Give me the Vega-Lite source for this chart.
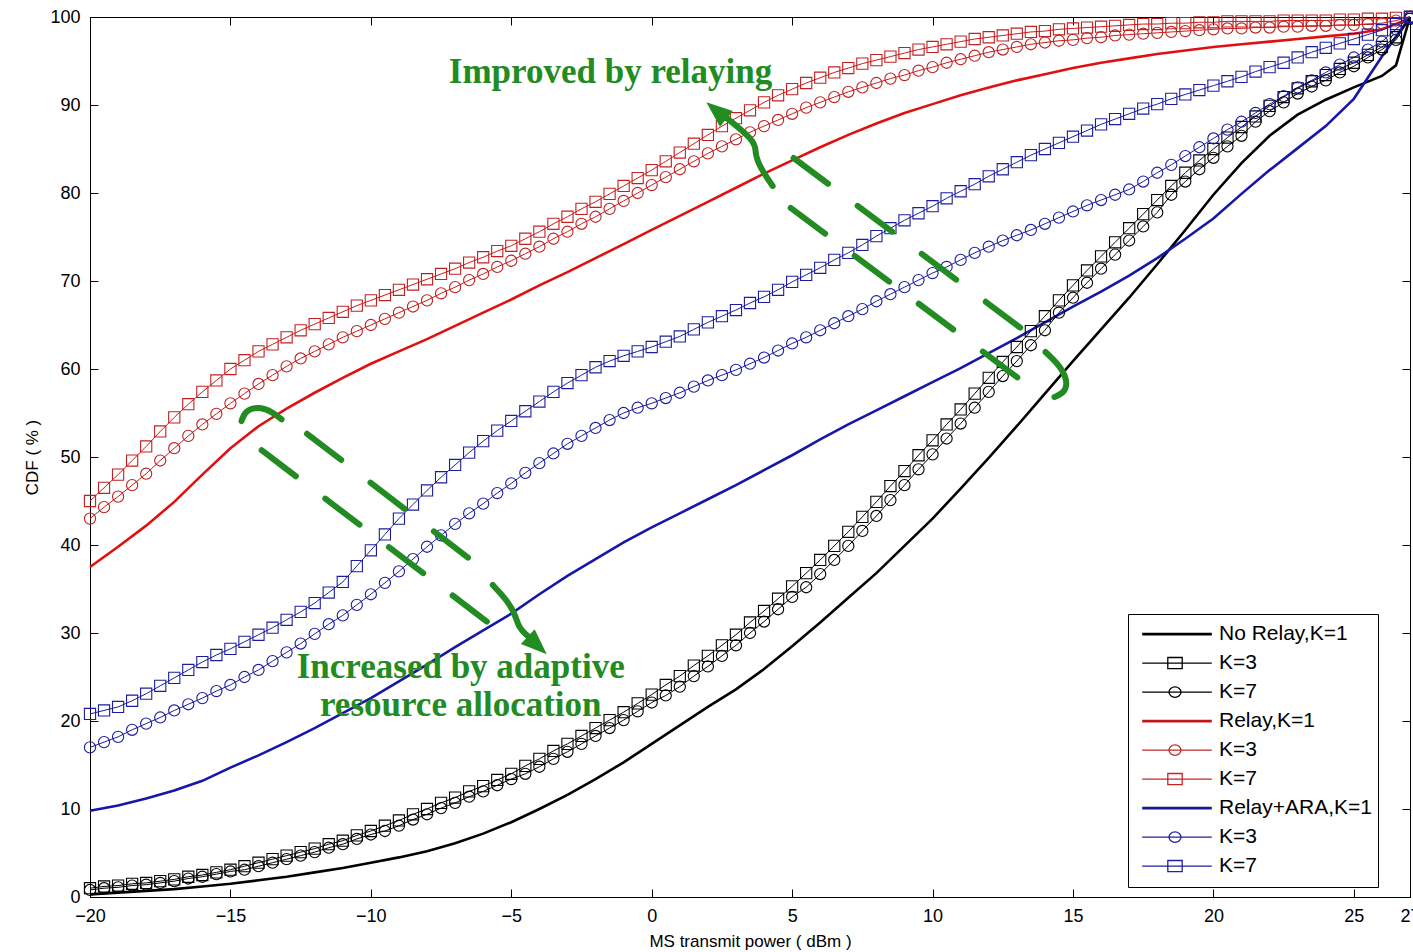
{
"$schema": "https://vega.github.io/schema/vega-lite/v6.json",
"width": 1320, "height": 880,
"autosize": {"type": "none"},
"padding": {"left": 90, "top": 17, "right": 3, "bottom": 55},
"background": "white",
"config": {
  "view": {"stroke": "black", "strokeWidth": 1},
  "font": "Liberation Sans",
  "axis": {"grid": false, "domainColor": "black", "domainWidth": 1, "tickColor": "black", "tickWidth": 1, "tickSize": -8, "labelColor": "black", "titleColor": "black", "labelFont": "Liberation Sans", "titleFont": "Liberation Sans", "labelFontSize": 18, "titleFontSize": 17, "titleFontWeight": "normal", "labelFlush": false, "labelOverlap": false, "labelPadding": 18}
},
"datasets": {
"meta": [
{"name": "No Relay,K=1"}, {"name": "No Relay,K=3"}, {"name": "No Relay,K=7"},
{"name": "Relay,K=1"}, {"name": "Relay,K=3"}, {"name": "Relay,K=7"},
{"name": "Relay+ARA,K=1"}, {"name": "Relay+ARA,K=3"}, {"name": "Relay+ARA,K=7"}
],
"curves": [
{"series":"N1","x":-20,"y":0.3},{"series":"N1","x":-19,"y":0.5},{"series":"N1","x":-18,"y":0.7},{"series":"N1","x":-17,"y":0.9},{"series":"N1","x":-16,"y":1.2},{"series":"N1","x":-15,"y":1.5},{"series":"N1","x":-14,"y":1.9},{"series":"N1","x":-13,"y":2.3},{"series":"N1","x":-12,"y":2.8},{"series":"N1","x":-11,"y":3.3},{"series":"N1","x":-10,"y":3.9},{"series":"N1","x":-9,"y":4.5},{"series":"N1","x":-8,"y":5.2},{"series":"N1","x":-7,"y":6.1},{"series":"N1","x":-6,"y":7.2},{"series":"N1","x":-5,"y":8.5},{"series":"N1","x":-4,"y":10.0},{"series":"N1","x":-3,"y":11.6},{"series":"N1","x":-2,"y":13.4},{"series":"N1","x":-1,"y":15.3},{"series":"N1","x":0,"y":17.4},{"series":"N1","x":1,"y":19.5},{"series":"N1","x":2,"y":21.6},{"series":"N1","x":3,"y":23.6},{"series":"N1","x":4,"y":25.9},{"series":"N1","x":5,"y":28.5},{"series":"N1","x":6,"y":31.2},{"series":"N1","x":7,"y":34.0},{"series":"N1","x":8,"y":36.8},{"series":"N1","x":9,"y":39.9},{"series":"N1","x":10,"y":43.0},{"series":"N1","x":11,"y":46.4},{"series":"N1","x":12,"y":49.9},{"series":"N1","x":13,"y":53.5},{"series":"N1","x":14,"y":57.2},{"series":"N1","x":15,"y":60.9},{"series":"N1","x":16,"y":64.5},{"series":"N1","x":17,"y":68.1},{"series":"N1","x":18,"y":71.9},{"series":"N1","x":19,"y":75.8},{"series":"N1","x":20,"y":79.8},{"series":"N1","x":21,"y":83.4},{"series":"N1","x":22,"y":86.5},{"series":"N1","x":23,"y":88.9},{"series":"N1","x":24,"y":90.6},{"series":"N1","x":25,"y":92.0},{"series":"N1","x":26,"y":93.3},{"series":"N1","x":26.5,"y":94.5},{"series":"N1","x":27,"y":100},
{"series":"R1","x":-20,"y":37.5},{"series":"R1","x":-19,"y":39.8},{"series":"R1","x":-18,"y":42.2},{"series":"R1","x":-17,"y":44.9},{"series":"R1","x":-16,"y":48.0},{"series":"R1","x":-15,"y":51.0},{"series":"R1","x":-14,"y":53.5},{"series":"R1","x":-13,"y":55.5},{"series":"R1","x":-12,"y":57.3},{"series":"R1","x":-11,"y":59.0},{"series":"R1","x":-10,"y":60.6},{"series":"R1","x":-9,"y":62.0},{"series":"R1","x":-8,"y":63.4},{"series":"R1","x":-7,"y":64.9},{"series":"R1","x":-6,"y":66.4},{"series":"R1","x":-5,"y":67.9},{"series":"R1","x":-4,"y":69.5},{"series":"R1","x":-3,"y":71.0},{"series":"R1","x":-2,"y":72.6},{"series":"R1","x":-1,"y":74.2},{"series":"R1","x":0,"y":75.8},{"series":"R1","x":1,"y":77.4},{"series":"R1","x":2,"y":79.0},{"series":"R1","x":3,"y":80.6},{"series":"R1","x":4,"y":82.2},{"series":"R1","x":5,"y":83.7},{"series":"R1","x":6,"y":85.2},{"series":"R1","x":7,"y":86.6},{"series":"R1","x":8,"y":87.9},{"series":"R1","x":9,"y":89.1},{"series":"R1","x":10,"y":90.1},{"series":"R1","x":11,"y":91.1},{"series":"R1","x":12,"y":92.0},{"series":"R1","x":13,"y":92.8},{"series":"R1","x":14,"y":93.5},{"series":"R1","x":15,"y":94.2},{"series":"R1","x":16,"y":94.8},{"series":"R1","x":17,"y":95.3},{"series":"R1","x":18,"y":95.8},{"series":"R1","x":19,"y":96.2},{"series":"R1","x":20,"y":96.6},{"series":"R1","x":21,"y":96.9},{"series":"R1","x":22,"y":97.2},{"series":"R1","x":23,"y":97.5},{"series":"R1","x":24,"y":97.8},{"series":"R1","x":25,"y":98.1},{"series":"R1","x":26,"y":98.6},{"series":"R1","x":27,"y":99.8},
{"series":"A1","x":-20,"y":9.8},{"series":"A1","x":-19,"y":10.4},{"series":"A1","x":-18,"y":11.2},{"series":"A1","x":-17,"y":12.1},{"series":"A1","x":-16,"y":13.2},{"series":"A1","x":-15,"y":14.7},{"series":"A1","x":-14,"y":16.1},{"series":"A1","x":-13,"y":17.6},{"series":"A1","x":-12,"y":19.2},{"series":"A1","x":-11,"y":20.9},{"series":"A1","x":-10,"y":22.6},{"series":"A1","x":-9,"y":24.5},{"series":"A1","x":-8,"y":26.4},{"series":"A1","x":-7,"y":28.4},{"series":"A1","x":-6,"y":30.3},{"series":"A1","x":-5,"y":32.2},{"series":"A1","x":-4,"y":34.4},{"series":"A1","x":-3,"y":36.5},{"series":"A1","x":-2,"y":38.4},{"series":"A1","x":-1,"y":40.3},{"series":"A1","x":0,"y":42.0},{"series":"A1","x":1,"y":43.6},{"series":"A1","x":2,"y":45.2},{"series":"A1","x":3,"y":46.8},{"series":"A1","x":4,"y":48.5},{"series":"A1","x":5,"y":50.2},{"series":"A1","x":6,"y":52.0},{"series":"A1","x":7,"y":53.7},{"series":"A1","x":8,"y":55.3},{"series":"A1","x":9,"y":56.9},{"series":"A1","x":10,"y":58.5},{"series":"A1","x":11,"y":60.1},{"series":"A1","x":12,"y":61.8},{"series":"A1","x":13,"y":63.5},{"series":"A1","x":14,"y":65.3},{"series":"A1","x":15,"y":67.1},{"series":"A1","x":16,"y":68.8},{"series":"A1","x":17,"y":70.6},{"series":"A1","x":18,"y":72.6},{"series":"A1","x":19,"y":74.8},{"series":"A1","x":20,"y":77.1},{"series":"A1","x":21,"y":79.9},{"series":"A1","x":22,"y":82.6},{"series":"A1","x":23,"y":85.1},{"series":"A1","x":24,"y":87.6},{"series":"A1","x":25,"y":90.7},{"series":"A1","x":26,"y":95.5},{"series":"A1","x":27,"y":100},
{"series":"N3","x":-20,"y":1.0},{"series":"N3","x":-19.5,"y":1.2},{"series":"N3","x":-19,"y":1.3},{"series":"N3","x":-18.5,"y":1.5},{"series":"N3","x":-18,"y":1.6},{"series":"N3","x":-17.5,"y":1.8},{"series":"N3","x":-17,"y":2.0},{"series":"N3","x":-16.5,"y":2.3},{"series":"N3","x":-16,"y":2.5},{"series":"N3","x":-15.5,"y":2.8},{"series":"N3","x":-15,"y":3.1},{"series":"N3","x":-14.5,"y":3.5},{"series":"N3","x":-14,"y":3.9},{"series":"N3","x":-13.5,"y":4.3},{"series":"N3","x":-13,"y":4.7},{"series":"N3","x":-12.5,"y":5.1},{"series":"N3","x":-12,"y":5.5},{"series":"N3","x":-11.5,"y":6.0},{"series":"N3","x":-11,"y":6.4},{"series":"N3","x":-10.5,"y":7.0},{"series":"N3","x":-10,"y":7.5},{"series":"N3","x":-9.5,"y":8.1},{"series":"N3","x":-9,"y":8.7},{"series":"N3","x":-8.5,"y":9.4},{"series":"N3","x":-8,"y":10.0},{"series":"N3","x":-7.5,"y":10.7},{"series":"N3","x":-7,"y":11.3},{"series":"N3","x":-6.5,"y":12.0},{"series":"N3","x":-6,"y":12.6},{"series":"N3","x":-5.5,"y":13.3},{"series":"N3","x":-5,"y":14.0},{"series":"N3","x":-4.5,"y":14.9},{"series":"N3","x":-4,"y":15.7},{"series":"N3","x":-3.5,"y":16.6},{"series":"N3","x":-3,"y":17.4},{"series":"N3","x":-2.5,"y":18.3},{"series":"N3","x":-2,"y":19.2},{"series":"N3","x":-1.5,"y":20.1},{"series":"N3","x":-1,"y":21.0},{"series":"N3","x":-0.5,"y":22.0},{"series":"N3","x":0,"y":23.0},{"series":"N3","x":0.5,"y":24.1},{"series":"N3","x":1,"y":25.1},{"series":"N3","x":1.5,"y":26.3},{"series":"N3","x":2,"y":27.4},{"series":"N3","x":2.5,"y":28.6},{"series":"N3","x":3,"y":29.8},{"series":"N3","x":3.5,"y":31.2},{"series":"N3","x":4,"y":32.5},{"series":"N3","x":4.5,"y":33.9},{"series":"N3","x":5,"y":35.3},{"series":"N3","x":5.5,"y":36.8},{"series":"N3","x":6,"y":38.3},{"series":"N3","x":6.5,"y":39.9},{"series":"N3","x":7,"y":41.5},{"series":"N3","x":7.5,"y":43.2},{"series":"N3","x":8,"y":44.9},{"series":"N3","x":8.5,"y":46.7},{"series":"N3","x":9,"y":48.4},{"series":"N3","x":9.5,"y":50.2},{"series":"N3","x":10,"y":51.9},{"series":"N3","x":10.5,"y":53.7},{"series":"N3","x":11,"y":55.4},{"series":"N3","x":11.5,"y":57.2},{"series":"N3","x":12,"y":59.0},{"series":"N3","x":12.5,"y":60.8},{"series":"N3","x":13,"y":62.5},{"series":"N3","x":13.5,"y":64.3},{"series":"N3","x":14,"y":66.0},{"series":"N3","x":14.5,"y":67.8},{"series":"N3","x":15,"y":69.5},{"series":"N3","x":15.5,"y":71.2},{"series":"N3","x":16,"y":72.8},{"series":"N3","x":16.5,"y":74.4},{"series":"N3","x":17,"y":76.0},{"series":"N3","x":17.5,"y":77.6},{"series":"N3","x":18,"y":79.2},{"series":"N3","x":18.5,"y":80.8},{"series":"N3","x":19,"y":82.3},{"series":"N3","x":19.5,"y":83.7},{"series":"N3","x":20,"y":85.0},{"series":"N3","x":20.5,"y":86.3},{"series":"N3","x":21,"y":87.5},{"series":"N3","x":21.5,"y":88.7},{"series":"N3","x":22,"y":89.9},{"series":"N3","x":22.5,"y":90.9},{"series":"N3","x":23,"y":91.9},{"series":"N3","x":23.5,"y":92.7},{"series":"N3","x":24,"y":93.4},{"series":"N3","x":24.5,"y":94.1},{"series":"N3","x":25,"y":94.8},{"series":"N3","x":25.5,"y":95.7},{"series":"N3","x":26,"y":96.6},{"series":"N3","x":26.5,"y":97.7},{"series":"N3","x":27,"y":100},
{"series":"N7","x":-20,"y":0.8},{"series":"N7","x":-19.5,"y":1.0},{"series":"N7","x":-19,"y":1.1},{"series":"N7","x":-18.5,"y":1.3},{"series":"N7","x":-18,"y":1.4},{"series":"N7","x":-17.5,"y":1.6},{"series":"N7","x":-17,"y":1.8},{"series":"N7","x":-16.5,"y":2.1},{"series":"N7","x":-16,"y":2.3},{"series":"N7","x":-15.5,"y":2.6},{"series":"N7","x":-15,"y":2.9},{"series":"N7","x":-14.5,"y":3.1},{"series":"N7","x":-14,"y":3.5},{"series":"N7","x":-13.5,"y":3.9},{"series":"N7","x":-13,"y":4.3},{"series":"N7","x":-12.5,"y":4.7},{"series":"N7","x":-12,"y":5.1},{"series":"N7","x":-11.5,"y":5.6},{"series":"N7","x":-11,"y":6.0},{"series":"N7","x":-10.5,"y":6.6},{"series":"N7","x":-10,"y":7.1},{"series":"N7","x":-9.5,"y":7.5},{"series":"N7","x":-9,"y":8.1},{"series":"N7","x":-8.5,"y":8.8},{"series":"N7","x":-8,"y":9.4},{"series":"N7","x":-7.5,"y":10.1},{"series":"N7","x":-7,"y":10.7},{"series":"N7","x":-6.5,"y":11.4},{"series":"N7","x":-6,"y":12.0},{"series":"N7","x":-5.5,"y":12.7},{"series":"N7","x":-5,"y":13.4},{"series":"N7","x":-4.5,"y":14.0},{"series":"N7","x":-4,"y":14.8},{"series":"N7","x":-3.5,"y":15.7},{"series":"N7","x":-3,"y":16.5},{"series":"N7","x":-2.5,"y":17.4},{"series":"N7","x":-2,"y":18.3},{"series":"N7","x":-1.5,"y":19.2},{"series":"N7","x":-1,"y":20.1},{"series":"N7","x":-0.5,"y":21.1},{"series":"N7","x":0,"y":22.1},{"series":"N7","x":0.5,"y":22.9},{"series":"N7","x":1,"y":23.9},{"series":"N7","x":1.5,"y":25.1},{"series":"N7","x":2,"y":26.2},{"series":"N7","x":2.5,"y":27.4},{"series":"N7","x":3,"y":28.6},{"series":"N7","x":3.5,"y":30.0},{"series":"N7","x":4,"y":31.3},{"series":"N7","x":4.5,"y":32.7},{"series":"N7","x":5,"y":34.1},{"series":"N7","x":5.5,"y":35.2},{"series":"N7","x":6,"y":36.7},{"series":"N7","x":6.5,"y":38.3},{"series":"N7","x":7,"y":39.9},{"series":"N7","x":7.5,"y":41.6},{"series":"N7","x":8,"y":43.3},{"series":"N7","x":8.5,"y":45.1},{"series":"N7","x":9,"y":46.8},{"series":"N7","x":9.5,"y":48.6},{"series":"N7","x":10,"y":50.3},{"series":"N7","x":10.5,"y":52.1},{"series":"N7","x":11,"y":53.8},{"series":"N7","x":11.5,"y":55.6},{"series":"N7","x":12,"y":57.4},{"series":"N7","x":12.5,"y":59.2},{"series":"N7","x":13,"y":60.9},{"series":"N7","x":13.5,"y":62.7},{"series":"N7","x":14,"y":64.4},{"series":"N7","x":14.5,"y":66.4},{"series":"N7","x":15,"y":68.1},{"series":"N7","x":15.5,"y":69.8},{"series":"N7","x":16,"y":71.4},{"series":"N7","x":16.5,"y":73.0},{"series":"N7","x":17,"y":74.6},{"series":"N7","x":17.5,"y":76.2},{"series":"N7","x":18,"y":77.8},{"series":"N7","x":18.5,"y":79.8},{"series":"N7","x":19,"y":81.3},{"series":"N7","x":19.5,"y":82.7},{"series":"N7","x":20,"y":84.0},{"series":"N7","x":20.5,"y":85.3},{"series":"N7","x":21,"y":86.5},{"series":"N7","x":21.5,"y":88.1},{"series":"N7","x":22,"y":89.3},{"series":"N7","x":22.5,"y":90.3},{"series":"N7","x":23,"y":91.3},{"series":"N7","x":23.5,"y":92.1},{"series":"N7","x":24,"y":92.8},{"series":"N7","x":24.5,"y":93.7},{"series":"N7","x":25,"y":94.4},{"series":"N7","x":25.5,"y":95.4},{"series":"N7","x":26,"y":96.3},{"series":"N7","x":26.5,"y":97.4},{"series":"N7","x":27,"y":99.8},
{"series":"R3","x":-20,"y":43.0},{"series":"R3","x":-19.5,"y":44.3},{"series":"R3","x":-19,"y":45.5},{"series":"R3","x":-18.5,"y":46.8},{"series":"R3","x":-18,"y":48.1},{"series":"R3","x":-17.5,"y":49.6},{"series":"R3","x":-17,"y":51.0},{"series":"R3","x":-16.5,"y":52.4},{"series":"R3","x":-16,"y":53.7},{"series":"R3","x":-15.5,"y":54.9},{"series":"R3","x":-15,"y":56.1},{"series":"R3","x":-14.5,"y":57.2},{"series":"R3","x":-14,"y":58.3},{"series":"R3","x":-13.5,"y":59.3},{"series":"R3","x":-13,"y":60.3},{"series":"R3","x":-12.5,"y":61.2},{"series":"R3","x":-12,"y":62.0},{"series":"R3","x":-11.5,"y":62.8},{"series":"R3","x":-11,"y":63.6},{"series":"R3","x":-10.5,"y":64.3},{"series":"R3","x":-10,"y":65.0},{"series":"R3","x":-9.5,"y":65.7},{"series":"R3","x":-9,"y":66.4},{"series":"R3","x":-8.5,"y":67.1},{"series":"R3","x":-8,"y":67.8},{"series":"R3","x":-7.5,"y":68.6},{"series":"R3","x":-7,"y":69.3},{"series":"R3","x":-6.5,"y":70.1},{"series":"R3","x":-6,"y":70.8},{"series":"R3","x":-5.5,"y":71.6},{"series":"R3","x":-5,"y":72.3},{"series":"R3","x":-4.5,"y":73.1},{"series":"R3","x":-4,"y":73.9},{"series":"R3","x":-3.5,"y":74.8},{"series":"R3","x":-3,"y":75.6},{"series":"R3","x":-2.5,"y":76.5},{"series":"R3","x":-2,"y":77.3},{"series":"R3","x":-1.5,"y":78.2},{"series":"R3","x":-1,"y":79.1},{"series":"R3","x":-0.5,"y":80.0},{"series":"R3","x":0,"y":80.9},{"series":"R3","x":0.5,"y":81.8},{"series":"R3","x":1,"y":82.7},{"series":"R3","x":1.5,"y":83.6},{"series":"R3","x":2,"y":84.5},{"series":"R3","x":2.5,"y":85.3},{"series":"R3","x":3,"y":86.1},{"series":"R3","x":3.5,"y":86.9},{"series":"R3","x":4,"y":87.6},{"series":"R3","x":4.5,"y":88.3},{"series":"R3","x":5,"y":89.0},{"series":"R3","x":5.5,"y":89.7},{"series":"R3","x":6,"y":90.3},{"series":"R3","x":6.5,"y":90.9},{"series":"R3","x":7,"y":91.5},{"series":"R3","x":7.5,"y":92.0},{"series":"R3","x":8,"y":92.5},{"series":"R3","x":8.5,"y":93.0},{"series":"R3","x":9,"y":93.4},{"series":"R3","x":9.5,"y":93.9},{"series":"R3","x":10,"y":94.3},{"series":"R3","x":10.5,"y":94.8},{"series":"R3","x":11,"y":95.2},{"series":"R3","x":11.5,"y":95.6},{"series":"R3","x":12,"y":96.0},{"series":"R3","x":12.5,"y":96.3},{"series":"R3","x":13,"y":96.6},{"series":"R3","x":13.5,"y":96.9},{"series":"R3","x":14,"y":97.1},{"series":"R3","x":14.5,"y":97.3},{"series":"R3","x":15,"y":97.4},{"series":"R3","x":15.5,"y":97.6},{"series":"R3","x":16,"y":97.7},{"series":"R3","x":16.5,"y":97.9},{"series":"R3","x":17,"y":98.0},{"series":"R3","x":17.5,"y":98.1},{"series":"R3","x":18,"y":98.2},{"series":"R3","x":18.5,"y":98.3},{"series":"R3","x":19,"y":98.4},{"series":"R3","x":19.5,"y":98.5},{"series":"R3","x":20,"y":98.6},{"series":"R3","x":20.5,"y":98.7},{"series":"R3","x":21,"y":98.7},{"series":"R3","x":21.5,"y":98.8},{"series":"R3","x":22,"y":98.8},{"series":"R3","x":22.5,"y":98.9},{"series":"R3","x":23,"y":98.9},{"series":"R3","x":23.5,"y":99.0},{"series":"R3","x":24,"y":99.0},{"series":"R3","x":24.5,"y":99.1},{"series":"R3","x":25,"y":99.1},{"series":"R3","x":25.5,"y":99.2},{"series":"R3","x":26,"y":99.3},{"series":"R3","x":26.5,"y":99.6},{"series":"R3","x":27,"y":100},
{"series":"R7","x":-20,"y":45.0},{"series":"R7","x":-19.5,"y":46.5},{"series":"R7","x":-19,"y":48.0},{"series":"R7","x":-18.5,"y":49.6},{"series":"R7","x":-18,"y":51.2},{"series":"R7","x":-17.5,"y":52.9},{"series":"R7","x":-17,"y":54.5},{"series":"R7","x":-16.5,"y":56.0},{"series":"R7","x":-16,"y":57.4},{"series":"R7","x":-15.5,"y":58.7},{"series":"R7","x":-15,"y":60.0},{"series":"R7","x":-14.5,"y":61.0},{"series":"R7","x":-14,"y":62.0},{"series":"R7","x":-13.5,"y":62.8},{"series":"R7","x":-13,"y":63.6},{"series":"R7","x":-12.5,"y":64.4},{"series":"R7","x":-12,"y":65.1},{"series":"R7","x":-11.5,"y":65.8},{"series":"R7","x":-11,"y":66.5},{"series":"R7","x":-10.5,"y":67.2},{"series":"R7","x":-10,"y":67.8},{"series":"R7","x":-9.5,"y":68.4},{"series":"R7","x":-9,"y":69.0},{"series":"R7","x":-8.5,"y":69.6},{"series":"R7","x":-8,"y":70.2},{"series":"R7","x":-7.5,"y":70.8},{"series":"R7","x":-7,"y":71.4},{"series":"R7","x":-6.5,"y":72.1},{"series":"R7","x":-6,"y":72.7},{"series":"R7","x":-5.5,"y":73.4},{"series":"R7","x":-5,"y":74.0},{"series":"R7","x":-4.5,"y":74.8},{"series":"R7","x":-4,"y":75.6},{"series":"R7","x":-3.5,"y":76.5},{"series":"R7","x":-3,"y":77.3},{"series":"R7","x":-2.5,"y":78.2},{"series":"R7","x":-2,"y":79.0},{"series":"R7","x":-1.5,"y":79.9},{"series":"R7","x":-1,"y":80.8},{"series":"R7","x":-0.5,"y":81.7},{"series":"R7","x":0,"y":82.6},{"series":"R7","x":0.5,"y":83.6},{"series":"R7","x":1,"y":84.6},{"series":"R7","x":1.5,"y":85.6},{"series":"R7","x":2,"y":86.6},{"series":"R7","x":2.5,"y":87.6},{"series":"R7","x":3,"y":88.5},{"series":"R7","x":3.5,"y":89.4},{"series":"R7","x":4,"y":90.3},{"series":"R7","x":4.5,"y":91.1},{"series":"R7","x":5,"y":91.8},{"series":"R7","x":5.5,"y":92.5},{"series":"R7","x":6,"y":93.1},{"series":"R7","x":6.5,"y":93.7},{"series":"R7","x":7,"y":94.2},{"series":"R7","x":7.5,"y":94.7},{"series":"R7","x":8,"y":95.1},{"series":"R7","x":8.5,"y":95.5},{"series":"R7","x":9,"y":95.9},{"series":"R7","x":9.5,"y":96.3},{"series":"R7","x":10,"y":96.6},{"series":"R7","x":10.5,"y":96.9},{"series":"R7","x":11,"y":97.2},{"series":"R7","x":11.5,"y":97.5},{"series":"R7","x":12,"y":97.7},{"series":"R7","x":12.5,"y":97.9},{"series":"R7","x":13,"y":98.1},{"series":"R7","x":13.5,"y":98.3},{"series":"R7","x":14,"y":98.4},{"series":"R7","x":14.5,"y":98.6},{"series":"R7","x":15,"y":98.7},{"series":"R7","x":15.5,"y":98.8},{"series":"R7","x":16,"y":98.9},{"series":"R7","x":16.5,"y":99.0},{"series":"R7","x":17,"y":99.1},{"series":"R7","x":17.5,"y":99.2},{"series":"R7","x":18,"y":99.2},{"series":"R7","x":18.5,"y":99.3},{"series":"R7","x":19,"y":99.3},{"series":"R7","x":19.5,"y":99.4},{"series":"R7","x":20,"y":99.4},{"series":"R7","x":20.5,"y":99.5},{"series":"R7","x":21,"y":99.5},{"series":"R7","x":21.5,"y":99.5},{"series":"R7","x":22,"y":99.5},{"series":"R7","x":22.5,"y":99.6},{"series":"R7","x":23,"y":99.6},{"series":"R7","x":23.5,"y":99.6},{"series":"R7","x":24,"y":99.6},{"series":"R7","x":24.5,"y":99.7},{"series":"R7","x":25,"y":99.7},{"series":"R7","x":25.5,"y":99.8},{"series":"R7","x":26,"y":99.8},{"series":"R7","x":26.5,"y":99.9},{"series":"R7","x":27,"y":100},
{"series":"A3","x":-20,"y":17.0},{"series":"A3","x":-19.5,"y":17.6},{"series":"A3","x":-19,"y":18.2},{"series":"A3","x":-18.5,"y":19.0},{"series":"A3","x":-18,"y":19.7},{"series":"A3","x":-17.5,"y":20.4},{"series":"A3","x":-17,"y":21.2},{"series":"A3","x":-16.5,"y":21.9},{"series":"A3","x":-16,"y":22.6},{"series":"A3","x":-15.5,"y":23.4},{"series":"A3","x":-15,"y":24.1},{"series":"A3","x":-14.5,"y":25.0},{"series":"A3","x":-14,"y":25.8},{"series":"A3","x":-13.5,"y":26.8},{"series":"A3","x":-13,"y":27.8},{"series":"A3","x":-12.5,"y":28.8},{"series":"A3","x":-12,"y":29.9},{"series":"A3","x":-11.5,"y":31.0},{"series":"A3","x":-11,"y":32.0},{"series":"A3","x":-10.5,"y":33.2},{"series":"A3","x":-10,"y":34.4},{"series":"A3","x":-9.5,"y":35.7},{"series":"A3","x":-9,"y":37.0},{"series":"A3","x":-8.5,"y":38.4},{"series":"A3","x":-8,"y":39.8},{"series":"A3","x":-7.5,"y":41.1},{"series":"A3","x":-7,"y":42.4},{"series":"A3","x":-6.5,"y":43.6},{"series":"A3","x":-6,"y":44.7},{"series":"A3","x":-5.5,"y":45.9},{"series":"A3","x":-5,"y":47.0},{"series":"A3","x":-4.5,"y":48.2},{"series":"A3","x":-4,"y":49.3},{"series":"A3","x":-3.5,"y":50.4},{"series":"A3","x":-3,"y":51.5},{"series":"A3","x":-2.5,"y":52.4},{"series":"A3","x":-2,"y":53.3},{"series":"A3","x":-1.5,"y":54.2},{"series":"A3","x":-1,"y":55.0},{"series":"A3","x":-0.5,"y":55.6},{"series":"A3","x":0,"y":56.1},{"series":"A3","x":0.5,"y":56.7},{"series":"A3","x":1,"y":57.3},{"series":"A3","x":1.5,"y":58.0},{"series":"A3","x":2,"y":58.7},{"series":"A3","x":2.5,"y":59.3},{"series":"A3","x":3,"y":59.9},{"series":"A3","x":3.5,"y":60.6},{"series":"A3","x":4,"y":61.3},{"series":"A3","x":4.5,"y":62.1},{"series":"A3","x":5,"y":62.9},{"series":"A3","x":5.5,"y":63.6},{"series":"A3","x":6,"y":64.4},{"series":"A3","x":6.5,"y":65.2},{"series":"A3","x":7,"y":66.0},{"series":"A3","x":7.5,"y":66.8},{"series":"A3","x":8,"y":67.7},{"series":"A3","x":8.5,"y":68.5},{"series":"A3","x":9,"y":69.3},{"series":"A3","x":9.5,"y":70.1},{"series":"A3","x":10,"y":70.9},{"series":"A3","x":10.5,"y":71.6},{"series":"A3","x":11,"y":72.4},{"series":"A3","x":11.5,"y":73.2},{"series":"A3","x":12,"y":73.9},{"series":"A3","x":12.5,"y":74.6},{"series":"A3","x":13,"y":75.2},{"series":"A3","x":13.5,"y":75.8},{"series":"A3","x":14,"y":76.5},{"series":"A3","x":14.5,"y":77.2},{"series":"A3","x":15,"y":77.9},{"series":"A3","x":15.5,"y":78.6},{"series":"A3","x":16,"y":79.2},{"series":"A3","x":16.5,"y":79.8},{"series":"A3","x":17,"y":80.4},{"series":"A3","x":17.5,"y":81.3},{"series":"A3","x":18,"y":82.3},{"series":"A3","x":18.5,"y":83.2},{"series":"A3","x":19,"y":84.2},{"series":"A3","x":19.5,"y":85.2},{"series":"A3","x":20,"y":86.2},{"series":"A3","x":20.5,"y":87.2},{"series":"A3","x":21,"y":88.1},{"series":"A3","x":21.5,"y":89.1},{"series":"A3","x":22,"y":90.1},{"series":"A3","x":22.5,"y":91.0},{"series":"A3","x":23,"y":92.0},{"series":"A3","x":23.5,"y":92.8},{"series":"A3","x":24,"y":93.7},{"series":"A3","x":24.5,"y":94.6},{"series":"A3","x":25,"y":95.4},{"series":"A3","x":25.5,"y":96.3},{"series":"A3","x":26,"y":97.2},{"series":"A3","x":26.5,"y":98.6},{"series":"A3","x":27,"y":100},
{"series":"A7","x":-20,"y":20.8},{"series":"A7","x":-19.5,"y":21.2},{"series":"A7","x":-19,"y":21.6},{"series":"A7","x":-18.5,"y":22.3},{"series":"A7","x":-18,"y":23.1},{"series":"A7","x":-17.5,"y":24.0},{"series":"A7","x":-17,"y":24.9},{"series":"A7","x":-16.5,"y":25.8},{"series":"A7","x":-16,"y":26.7},{"series":"A7","x":-15.5,"y":27.5},{"series":"A7","x":-15,"y":28.2},{"series":"A7","x":-14.5,"y":29.0},{"series":"A7","x":-14,"y":29.8},{"series":"A7","x":-13.5,"y":30.6},{"series":"A7","x":-13,"y":31.5},{"series":"A7","x":-12.5,"y":32.4},{"series":"A7","x":-12,"y":33.4},{"series":"A7","x":-11.5,"y":34.6},{"series":"A7","x":-11,"y":35.8},{"series":"A7","x":-10.5,"y":37.6},{"series":"A7","x":-10,"y":39.4},{"series":"A7","x":-9.5,"y":41.2},{"series":"A7","x":-9,"y":43.0},{"series":"A7","x":-8.5,"y":44.6},{"series":"A7","x":-8,"y":46.2},{"series":"A7","x":-7.5,"y":47.7},{"series":"A7","x":-7,"y":49.1},{"series":"A7","x":-6.5,"y":50.5},{"series":"A7","x":-6,"y":51.8},{"series":"A7","x":-5.5,"y":53.0},{"series":"A7","x":-5,"y":54.1},{"series":"A7","x":-4.5,"y":55.2},{"series":"A7","x":-4,"y":56.3},{"series":"A7","x":-3.5,"y":57.4},{"series":"A7","x":-3,"y":58.4},{"series":"A7","x":-2.5,"y":59.3},{"series":"A7","x":-2,"y":60.2},{"series":"A7","x":-1.5,"y":60.9},{"series":"A7","x":-1,"y":61.5},{"series":"A7","x":-0.5,"y":62.0},{"series":"A7","x":0,"y":62.5},{"series":"A7","x":0.5,"y":63.1},{"series":"A7","x":1,"y":63.7},{"series":"A7","x":1.5,"y":64.5},{"series":"A7","x":2,"y":65.3},{"series":"A7","x":2.5,"y":66.0},{"series":"A7","x":3,"y":66.7},{"series":"A7","x":3.5,"y":67.5},{"series":"A7","x":4,"y":68.2},{"series":"A7","x":4.5,"y":69.0},{"series":"A7","x":5,"y":69.9},{"series":"A7","x":5.5,"y":70.7},{"series":"A7","x":6,"y":71.5},{"series":"A7","x":6.5,"y":72.4},{"series":"A7","x":7,"y":73.2},{"series":"A7","x":7.5,"y":74.1},{"series":"A7","x":8,"y":75.1},{"series":"A7","x":8.5,"y":76.0},{"series":"A7","x":9,"y":76.9},{"series":"A7","x":9.5,"y":77.7},{"series":"A7","x":10,"y":78.5},{"series":"A7","x":10.5,"y":79.4},{"series":"A7","x":11,"y":80.2},{"series":"A7","x":11.5,"y":81.0},{"series":"A7","x":12,"y":81.9},{"series":"A7","x":12.5,"y":82.7},{"series":"A7","x":13,"y":83.5},{"series":"A7","x":13.5,"y":84.3},{"series":"A7","x":14,"y":85.0},{"series":"A7","x":14.5,"y":85.7},{"series":"A7","x":15,"y":86.4},{"series":"A7","x":15.5,"y":87.1},{"series":"A7","x":16,"y":87.8},{"series":"A7","x":16.5,"y":88.4},{"series":"A7","x":17,"y":89.0},{"series":"A7","x":17.5,"y":89.6},{"series":"A7","x":18,"y":90.1},{"series":"A7","x":18.5,"y":90.7},{"series":"A7","x":19,"y":91.2},{"series":"A7","x":19.5,"y":91.7},{"series":"A7","x":20,"y":92.2},{"series":"A7","x":20.5,"y":92.7},{"series":"A7","x":21,"y":93.2},{"series":"A7","x":21.5,"y":93.8},{"series":"A7","x":22,"y":94.3},{"series":"A7","x":22.5,"y":94.8},{"series":"A7","x":23,"y":95.4},{"series":"A7","x":23.5,"y":96.0},{"series":"A7","x":24,"y":96.5},{"series":"A7","x":24.5,"y":97.0},{"series":"A7","x":25,"y":97.5},{"series":"A7","x":25.5,"y":98.0},{"series":"A7","x":26,"y":98.5},{"series":"A7","x":26.5,"y":99.2},{"series":"A7","x":27,"y":100}
],
"dashes": [
{"path":"d1","i":0,"x":5.053,"y":83.98},{"path":"d1","i":1,"x":13.238,"y":64.43},
{"path":"d2","i":0,"x":4.947,"y":78.30},{"path":"d2","i":1,"x":13.238,"y":58.52},
{"path":"d3","i":0,"x":-12.270,"y":52.64},{"path":"d3","i":1,"x":-6.370,"y":38.15},
{"path":"d4","i":0,"x":-13.890,"y":50.77},{"path":"d4","i":1,"x":-5.786,"y":31.10}
],
"hooks": [
{"path":"h1","i":0,"x":2.491,"y":88.98},{"path":"h1","i":1,"x":3.737,"y":85.80},{"path":"h1","i":2,"x":3.665,"y":84.66},{"path":"h1","i":3,"x":3.843,"y":82.95},{"path":"h1","i":4,"x":4.306,"y":80.80},
{"path":"h2","i":0,"x":14.021,"y":61.93},{"path":"h2","i":1,"x":14.520,"y":60.45},{"path":"h2","i":2,"x":14.804,"y":58.75},{"path":"h2","i":3,"x":14.733,"y":57.39},{"path":"h2","i":4,"x":14.342,"y":56.82},
{"path":"h3","i":0,"x":-14.605,"y":54.08},{"path":"h3","i":1,"x":-14.473,"y":55.33},{"path":"h3","i":2,"x":-13.954,"y":55.74},{"path":"h3","i":3,"x":-13.502,"y":55.11},{"path":"h3","i":4,"x":-13.178,"y":54.28},
{"path":"h4","i":0,"x":-5.658,"y":35.45},{"path":"h4","i":1,"x":-5.125,"y":33.64},{"path":"h4","i":2,"x":-4.840,"y":31.93},{"path":"h4","i":3,"x":-4.733,"y":30.57},{"path":"h4","i":4,"x":-4.413,"y":29.66}
],
"heads": [
{"head":"a1","x":2.303,"y":89.36},
{"head":"a2","x":-4.075,"y":28.59}
],
"notes": [
{"text":"Improved by relaying","x":-1.466,"y":92.55},
{"text":"Increased by adaptive","x":-6.80,"y":24.9},
{"text":"resource allocation","x":-6.80,"y":20.55}
]
},
"layer": [
{
 "data": {"name": "curves"},
 "transform": [{"filter": {"field": "series", "oneOf": ["N1", "R1", "A1"]}}],
 "mark": {"type": "line", "strokeWidth": 2.6},
 "encoding": {
  "x": {"field": "x", "type": "quantitative", "scale": {"domain": [-20, 27], "nice": false, "zero": false},
        "axis": {"orient": "bottom", "values": [-20, -15, -10, -5, 0, 5, 10, 15, 20, 25, 27], "title": "MS transmit power ( dBm )", "titlePadding": 8}},
  "y": {"field": "y", "type": "quantitative", "scale": {"domain": [0, 100], "nice": false, "zero": false},
        "axis": {"orient": "left", "values": [0, 10, 20, 30, 40, 50, 60, 70, 80, 90, 100], "title": "CDF ( % )", "titlePadding": 8}},
  "color": {"field": "series", "type": "nominal", "scale": {"domain": ["N1", "N3", "N7", "R1", "R3", "R7", "A1", "A3", "A7"], "range": ["#000000", "#000000", "#000000", "#e01010", "#d01818", "#d01818", "#1616a8", "#1c1ca0", "#1c1ca0"]}, "legend": null},
  "order": {"field": "x", "type": "quantitative"}
 }
},
{
 "data": {"name": "curves"},
 "transform": [{"filter": {"field": "series", "oneOf": ["N3", "N7", "R3", "R7", "A3", "A7"]}}],
 "mark": {"type": "line", "strokeWidth": 1},
 "encoding": {
  "x": {"field": "x", "type": "quantitative", "scale": {"domain": [-20, 27], "nice": false, "zero": false}, "axis": null},
  "y": {"field": "y", "type": "quantitative", "scale": {"domain": [0, 100], "nice": false, "zero": false}, "axis": null},
  "color": {"field": "series", "type": "nominal", "scale": {"domain": ["N1", "N3", "N7", "R1", "R3", "R7", "A1", "A3", "A7"], "range": ["#000000", "#000000", "#000000", "#e01010", "#d01818", "#d01818", "#1616a8", "#1c1ca0", "#1c1ca0"]}, "legend": null},
  "order": {"field": "x", "type": "quantitative"}
 }
},
{
 "data": {"name": "curves"},
 "transform": [{"filter": {"field": "series", "oneOf": ["N3", "N7", "R3", "R7", "A3", "A7"]}}],
 "mark": {"type": "point", "filled": false, "size": 125, "strokeWidth": 1.1, "opacity": 1},
 "encoding": {
  "x": {"field": "x", "type": "quantitative", "scale": {"domain": [-20, 27], "nice": false, "zero": false}, "axis": null},
  "y": {"field": "y", "type": "quantitative", "scale": {"domain": [0, 100], "nice": false, "zero": false}, "axis": null},
  "color": {"field": "series", "type": "nominal", "scale": {"domain": ["N1", "N3", "N7", "R1", "R3", "R7", "A1", "A3", "A7"], "range": ["#000000", "#000000", "#000000", "#e01010", "#c02020", "#c02020", "#1616a8", "#1c1ca0", "#1c1ca0"]}, "legend": null},
  "shape": {"field": "series", "type": "nominal", "scale": {"domain": ["N3", "N7", "R3", "R7", "A3", "A7"], "range": ["square", "circle", "circle", "square", "circle", "square"]}, "legend": null}
 }
},
{
 "data": {"name": "meta"},
 "mark": {"type": "point", "filled": false, "opacity": 0},
 "encoding": {
  "color": {"field": "name", "type": "nominal",
    "scale": {"domain": ["No Relay,K=1", "No Relay,K=3", "No Relay,K=7", "Relay,K=1", "Relay,K=3", "Relay,K=7", "Relay+ARA,K=1", "Relay+ARA,K=3", "Relay+ARA,K=7"], "range": ["#000000", "#000000", "#000000", "#c01818", "#c02828", "#c02828", "#181890", "#2020a0", "#2020a0"]},
    "legend": {"orient": "none", "legendX": 1038, "legendY": 597, "title": null, "strokeColor": "black", "fillColor": "white", "padding": 6, "labelFont": "Liberation Sans", "labelFontSize": 21, "labelColor": "black", "symbolSize": 6400, "symbolStrokeWidth": 1.3, "symbolOpacity": 1, "clipHeight": 28.2, "rowPadding": 0, "labelOffset": 3, "labelExpr": "indexof(datum.label, 'K=1') >= 0 ? datum.label : 'K=' + slice(datum.label, -1)"}},
  "shape": {"field": "name", "type": "nominal",
    "scale": {"domain": ["No Relay,K=1", "No Relay,K=3", "No Relay,K=7", "Relay,K=1", "Relay,K=3", "Relay,K=7", "Relay+ARA,K=1", "Relay+ARA,K=3", "Relay+ARA,K=7"],
      "range": ["M-0.82,-0.016H0.92M-0.82,0.016H0.92", "M-0.82,0H0.92M-0.18,-0.14H0.18V0.14H-0.18Z", "M-0.82,0H0.92M0.15,0A0.15,0.13,0,1,1,-0.15,0A0.15,0.13,0,1,1,0.15,0", "M-0.82,-0.016H0.92M-0.82,0.016H0.92", "M-0.82,0H0.92M0.15,0A0.15,0.13,0,1,1,-0.15,0A0.15,0.13,0,1,1,0.15,0", "M-0.82,0H0.92M-0.18,-0.14H0.18V0.14H-0.18Z", "M-0.82,-0.016H0.92M-0.82,0.016H0.92", "M-0.82,0H0.92M0.15,0A0.15,0.13,0,1,1,-0.15,0A0.15,0.13,0,1,1,0.15,0", "M-0.82,0H0.92M-0.18,-0.14H0.18V0.14H-0.18Z"]},
    "legend": {"orient": "none", "legendX": 1038, "legendY": 597, "title": null, "strokeColor": "black", "fillColor": "white", "padding": 6, "labelFont": "Liberation Sans", "labelFontSize": 21, "labelColor": "black", "symbolSize": 6400, "symbolStrokeWidth": 1.3, "symbolOpacity": 1, "clipHeight": 28.2, "rowPadding": 0, "labelOffset": 3, "labelExpr": "indexof(datum.label, 'K=1') >= 0 ? datum.label : 'K=' + slice(datum.label, -1)"}}
 }
},
{
 "data": {"name": "dashes"},
 "mark": {"type": "line", "color": "#228b22", "strokeWidth": 6, "strokeCap": "round", "strokeDash": [43, 37]},
 "encoding": {
  "x": {"field": "x", "type": "quantitative", "scale": {"domain": [-20, 27], "nice": false, "zero": false}, "axis": null},
  "y": {"field": "y", "type": "quantitative", "scale": {"domain": [0, 100], "nice": false, "zero": false}, "axis": null},
  "detail": {"field": "path"},
  "order": {"field": "i", "type": "quantitative"}
 }
},
{
 "data": {"name": "hooks"},
 "mark": {"type": "line", "color": "#228b22", "strokeWidth": 6, "strokeCap": "round", "strokeJoin": "round", "interpolate": "basis"},
 "encoding": {
  "x": {"field": "x", "type": "quantitative", "scale": {"domain": [-20, 27], "nice": false, "zero": false}, "axis": null},
  "y": {"field": "y", "type": "quantitative", "scale": {"domain": [0, 100], "nice": false, "zero": false}, "axis": null},
  "detail": {"field": "path"},
  "order": {"field": "i", "type": "quantitative"}
 }
},
{
 "data": {"name": "heads"},
 "transform": [{"filter": "datum.head == 'a1'"}],
 "mark": {"type": "point", "shape": "M0,-1L0.78,1L-0.78,1Z", "filled": true, "color": "#228b22", "opacity": 1, "size": 676, "angle": 309.6, "strokeWidth": 0},
 "encoding": {
  "x": {"field": "x", "type": "quantitative", "scale": {"domain": [-20, 27], "nice": false, "zero": false}, "axis": null},
  "y": {"field": "y", "type": "quantitative", "scale": {"domain": [0, 100], "nice": false, "zero": false}, "axis": null}
 }
},
{
 "data": {"name": "heads"},
 "transform": [{"filter": "datum.head == 'a2'"}],
 "mark": {"type": "point", "shape": "M0,-1L0.78,1L-0.78,1Z", "filled": true, "color": "#228b22", "opacity": 1, "size": 676, "angle": 133, "strokeWidth": 0},
 "encoding": {
  "x": {"field": "x", "type": "quantitative", "scale": {"domain": [-20, 27], "nice": false, "zero": false}, "axis": null},
  "y": {"field": "y", "type": "quantitative", "scale": {"domain": [0, 100], "nice": false, "zero": false}, "axis": null}
 }
},
{
 "data": {"name": "notes"},
 "mark": {"type": "text", "font": "Liberation Serif", "fontWeight": "bold", "fontSize": 35, "color": "#228b22", "align": "center", "baseline": "alphabetic"},
 "encoding": {
  "x": {"field": "x", "type": "quantitative", "scale": {"domain": [-20, 27], "nice": false, "zero": false},
        "axis": {"orient": "top", "values": [-20, -15, -10, -5, 0, 5, 10, 15, 20, 25, 27], "labels": false, "title": null}},
  "y": {"field": "y", "type": "quantitative", "scale": {"domain": [0, 100], "nice": false, "zero": false},
        "axis": {"orient": "right", "values": [0, 10, 20, 30, 40, 50, 60, 70, 80, 90, 100], "labels": false, "title": null}},
  "text": {"field": "text"}
 }
}
],
"resolve": {"scale": {"color": "independent", "shape": "independent"}, "axis": {"x": "independent", "y": "independent"}}
}
